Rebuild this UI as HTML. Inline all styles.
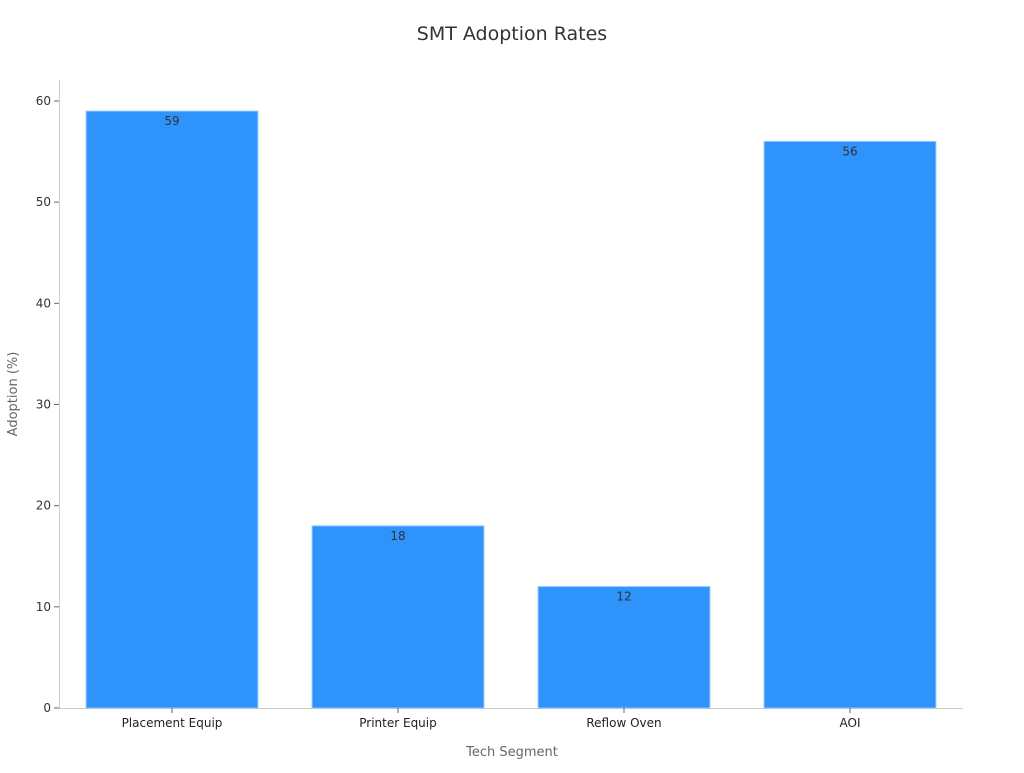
<!DOCTYPE html>
<html><head><meta charset="utf-8"><style>
body{margin:0;background:#fff;font-family:"Liberation Sans","DejaVu Sans",sans-serif;}
svg text{font-family:"DejaVu Sans","Liberation Sans",sans-serif;}
</style></head><body>
<svg id="chart" width="1024" height="768" viewBox="0 0 1024 768" xmlns="http://www.w3.org/2000/svg">
<text x="512" y="40" text-anchor="middle" font-size="19" fill="#333">SMT Adoption Rates</text>
<text transform="translate(17,394) rotate(-90)" text-anchor="middle" font-size="13" fill="#666">Adoption (%)</text>
<text x="512" y="756" text-anchor="middle" font-size="13" fill="#666">Tech Segment</text>
<line x1="59.5" y1="80" x2="59.5" y2="708" stroke="#ccc"/>
<line x1="59" y1="708.5" x2="963" y2="708.5" stroke="#ccc"/>
<g id="yticks"></g><g id="bars"></g><g id="xticks"></g>
</svg>
<script>
const categories = ["Placement Equip","Printer Equip","Reflow Oven","AOI"];
const values = [59,18,12,56];
const yTicks = [0,10,20,30,40,50,60];
const NS="http://www.w3.org/2000/svg";
const x0=59,x1=963,y0=708,yTop=101,yMax=60;
const band=(x1-x0)/categories.length;
function yScale(v){return y0-(y0-yTop)*v/yMax;}
function xCenter(i){return x0+band*(i+0.5);}
function mk(t,a,p){const e=document.createElementNS(NS,t);for(const k in a)e.setAttribute(k,a[k]);p.appendChild(e);return e;}
const yt=document.getElementById('yticks');
yTicks.forEach(v=>{
  const y=yScale(v);
  const l=mk('line',{x1:54,x2:59,y1:y,y2:y,stroke:'#666'},yt);
  
  
  const t=mk('text',{x:51,y:y+4,'text-anchor':'end','font-size':12,fill:'#333'},yt);
  
  
  t.textContent=v;
});
const bg=document.getElementById('bars'), xt=document.getElementById('xticks');
const bw=band*0.76;
categories.forEach((c,i)=>{
  const cx=xCenter(i), y=yScale(values[i]);
  const r=mk('rect',{x:cx-bw/2,y:y,width:bw,height:y0-y,fill:'#2e93fa',stroke:'#8fc4fc','stroke-width':1},bg);
  
  
  const vl=mk('text',{x:cx,y:y+14,'text-anchor':'middle','font-size':12,fill:'#333'},bg);
  
  
  vl.textContent=values[i];
  const tm=mk('line',{x1:cx,x2:cx,y1:708,y2:713,stroke:'#666'},xt);
  
  
  const tl=mk('text',{x:cx,y:727,'text-anchor':'middle','font-size':12,fill:'#222'},xt);
  
  
  tl.textContent=c;
});
</script>
</body></html>
